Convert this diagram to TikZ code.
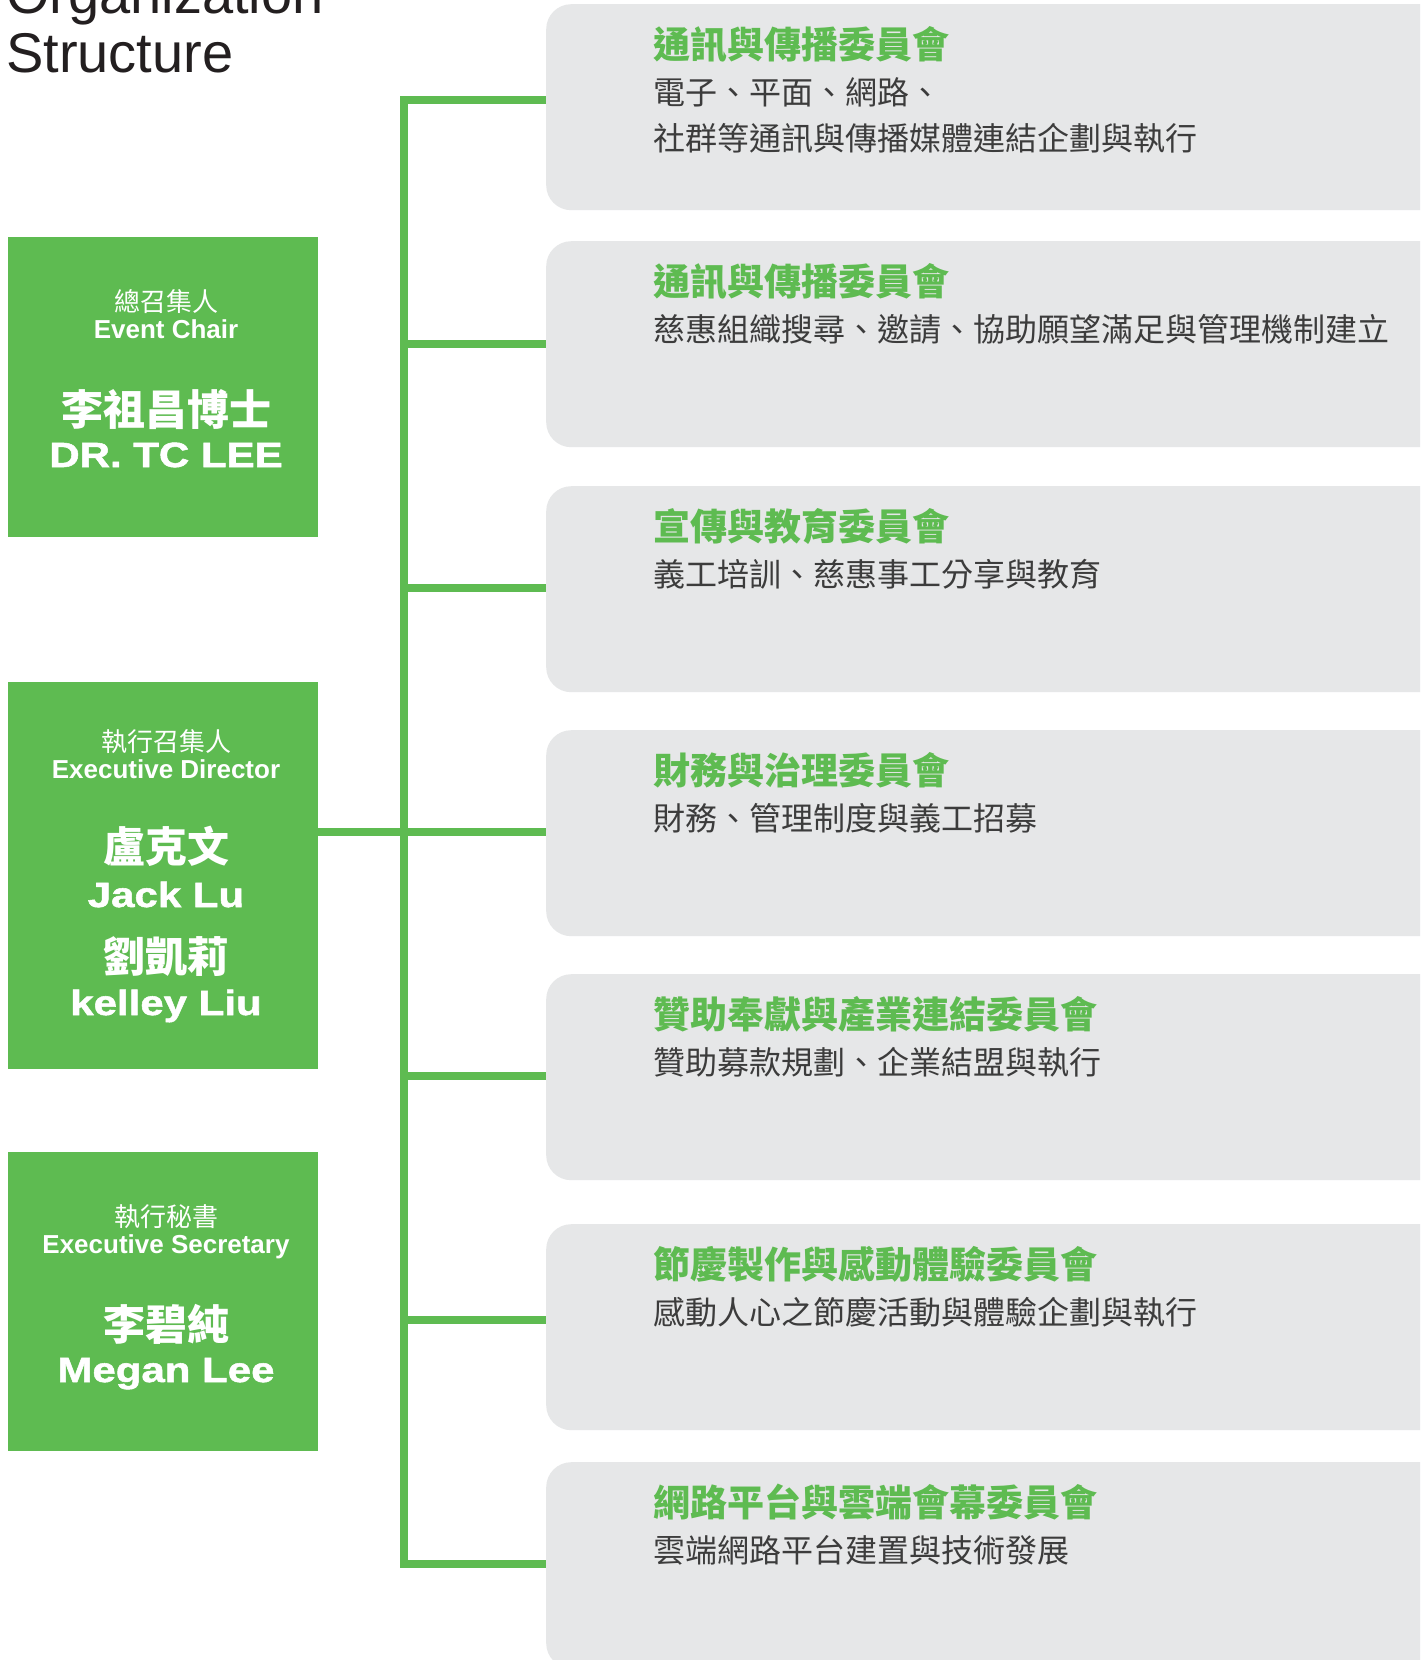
\documentclass[tikz,border=0pt]{standalone}
\usepackage{fontspec}
\setmainfont{Liberation Sans}
\newfontfamily\cjk{Noto Sans CJK TC}
\newfontfamily\heavy[FakeStretch=1.2,FakeBold=1.5]{Liberation Sans}
\usepackage{xcolor}
\definecolor{leaf}{RGB}{94,187,81}
\definecolor{panelgray}{RGB}{230,231,232}
\definecolor{ink}{RGB}{60,60,60}
\definecolor{titleink}{RGB}{35,31,32}

\begin{document}
\begin{tikzpicture}[x=1pt,y=-1pt,
    lead/.style={fill=leaf, anchor=north west, inner sep=0pt, minimum width=310pt},
    panel/.style={fill=panelgray, rounded corners=25pt, anchor=north west, inner sep=0pt, minimum width=920pt, minimum height=206pt},
    link/.style={draw=leaf, line width=8pt},
    rolecn/.style={text=white, anchor=base, inner sep=0pt, font=\cjk\fontsize{26}{26}\selectfont},
    roleen/.style={text=white, anchor=base, inner sep=0pt, font=\bfseries\fontsize{26}{26}\selectfont},
    namecn/.style={text=white, anchor=base, inner sep=0pt, font=\cjk\bfseries\fontsize{42}{42}\selectfont},
    nameen/.style={text=white, anchor=base, inner sep=0pt, font=\heavy\bfseries\fontsize{35}{35}\selectfont},
    ctitle/.style={text=leaf, anchor=base west, inner sep=0pt, font=\cjk\bfseries\fontsize{37}{37}\selectfont},
    cdesc/.style={text=ink, anchor=base west, inner sep=0pt, font=\cjk\fontsize{32}{32}\selectfont}]
    \useasboundingbox (0,0) rectangle (1427,1660);
    \fill[white] (0,0) rectangle (1427,1660);
    \begin{scope}
    \clip (0,0) rectangle (1420,1660);

    % Heading
    \node[anchor=base west, inner sep=0pt, text=titleink, font=\fontsize{56}{59}\selectfont] (org) at (6,13) {Organization};
    \node[anchor=base west, inner sep=0pt, text=titleink, font=\fontsize{56}{59}\selectfont] (struct) at (6,72) {Structure};

    % Committees
    \foreach \i/\ytop/\ly/\chead/\cbody in {
        1/4/100/通訊與傳播委員會/電子、平面、網路、,
        2/241/344/通訊與傳播委員會/慈惠組織搜尋、邀請、協助願望滿足與管理機制建立,
        3/486/588/宣傳與教育委員會/義工培訓、慈惠事工分享與教育,
        4/730/832/財務與治理委員會/財務、管理制度與義工招募,
        5/974/1076/贊助奉獻與產業連結委員會/贊助募款規劃、企業結盟與執行,
        6/1224/1320/節慶製作與感動體驗委員會/感動人心之節慶活動與體驗企劃與執行,
        7/1462/1564/網路平台與雲端會幕委員會/雲端網路平台建置與技術發展}{
        \node[panel] (c\i) at (546,\ytop) {};
        \node[ctitle] (c\i-head) at (653,\ytop+54) {\chead};
        \node[cdesc] (c\i-body) at (653,\ytop+100) {\cbody};
        \coordinate (j\i) at (546,\ly);
    }
    \node[cdesc] (c1-body2) at (653,150) {社群等通訊與傳播媒體連結企劃與執行};

    % Leaders
    \node[lead, minimum height=300pt] (chair) at (8,237) {};
    \node[rolecn] (chair-r) at (166,311) {總召集人};
    \node[roleen] (chair-re) at (166,338) {Event Chair};
    \node[namecn] (chair-n) at (166,425) {李祖昌博士};
    \node[nameen] (chair-ne) at (166,467) {DR. TC LEE};

    \node[lead, minimum height=387pt] (exec) at (8,682) {};
    \node[rolecn] (exec-r) at (166,751) {執行召集人};
    \node[roleen] (exec-re) at (166,778) {Executive Director};
    \node[namecn] (exec-n1) at (166,862) {盧克文};
    \node[nameen] (exec-ne1) at (166,907) {Jack Lu};
    \node[namecn] (exec-n2) at (166,972) {劉凱莉};
    \node[nameen] (exec-ne2) at (166,1015) {kelley Liu};

    \node[lead, minimum height=299pt] (sec) at (8,1152) {};
    \node[rolecn] (sec-r) at (166,1226) {執行秘書};
    \node[roleen] (sec-re) at (166,1253) {Executive Secretary};
    \node[namecn] (sec-n) at (166,1340) {李碧純};
    \node[nameen] (sec-ne) at (166,1382) {Megan Lee};

    % Bus
    \coordinate (bus) at (404,0);
    \draw[link] (j1) -- (bus |- j1) -- (bus |- j7) -- (j7);
    \foreach \i in {2,...,6}
        \draw[link] (bus |- j\i) -- (j\i);
    \draw[link] (exec.east |- j4) -- (j4);
    \end{scope}
\end{tikzpicture}
\end{document}
